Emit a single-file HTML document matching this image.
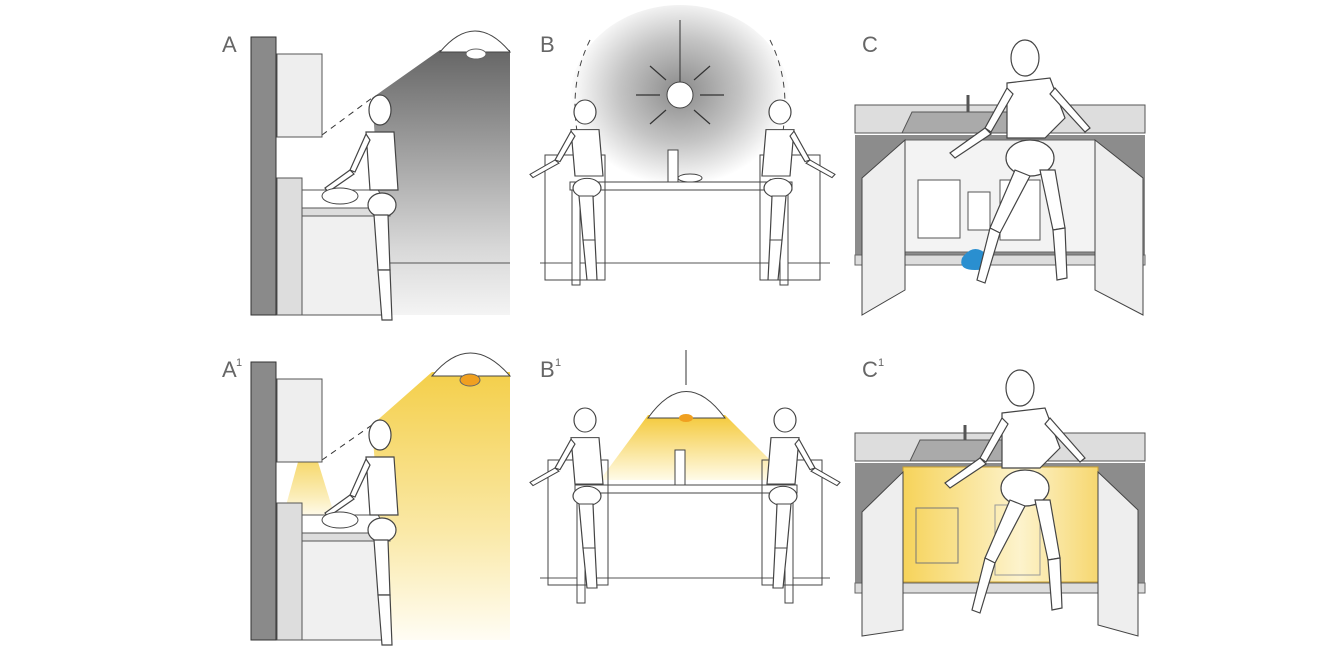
<!DOCTYPE html>
<html><head><meta charset="utf-8"><style>
html,body{margin:0;padding:0;background:#fff}
svg{display:block}
text{font-family:"Liberation Sans",sans-serif;fill:#666}
</style></head><body>
<svg width="1342" height="671" viewBox="0 0 1342 671" xmlns="http://www.w3.org/2000/svg">
<defs>
<linearGradient id="gA" x1="0" y1="0" x2="0" y2="1"><stop offset="0" stop-color="#666"/><stop offset="0.75" stop-color="#d8d8d8"/><stop offset="1" stop-color="#f4f4f4"/></linearGradient>
<linearGradient id="yA" x1="0" y1="0" x2="0" y2="1"><stop offset="0" stop-color="#f4cf4a"/><stop offset="0.6" stop-color="#fae9a8"/><stop offset="1" stop-color="#fffdf4"/></linearGradient>
<radialGradient id="rB" cx="0.5" cy="0.45" r="0.5"><stop offset="0" stop-color="#8a8a8a"/><stop offset="0.55" stop-color="#c4c4c4"/><stop offset="1" stop-color="#fff"/></radialGradient>
<linearGradient id="yB" x1="0" y1="0" x2="0" y2="1"><stop offset="0" stop-color="#f4c93a"/><stop offset="1" stop-color="#fffbe8"/></linearGradient>
<linearGradient id="yC" x1="0" y1="0" x2="1" y2="0"><stop offset="0" stop-color="#f6d35a"/><stop offset="0.6" stop-color="#fdf3cc"/><stop offset="1" stop-color="#f6d770"/></linearGradient>
<g id="fig" fill="#fff" stroke="#444" stroke-width="1.2">
<ellipse cx="0" cy="0" rx="11" ry="15"/>
<path d="M-14 22 L14 22 L18 80 L-10 80 Z"/>
<ellipse cx="2" cy="95" rx="14" ry="12"/>
<path d="M-6 105 L8 105 L10 160 L-2 160 Z"/>
<path d="M-2 160 L10 160 L12 210 L2 210 Z"/>
<path d="M-14 24 L-30 60 L-25 62 L-10 30 Z"/>
<path d="M-30 60 L-55 78 L-52 82 L-26 64 Z"/>
</g>
<g id="figC" fill="#fff" stroke="#444" stroke-width="1.2">
<ellipse cx="0" cy="0" rx="14" ry="18"/>
<path d="M-18 25 L25 20 L40 60 L20 80 L-18 80 Z"/>
<ellipse cx="5" cy="100" rx="24" ry="18"/>
<path d="M-10 112 L5 118 L-25 175 L-35 170 Z"/>
<path d="M-35 170 L-25 175 L-40 225 L-48 222 Z"/>
<path d="M15 112 L30 112 L40 170 L28 172 Z"/>
<path d="M28 172 L40 170 L42 220 L32 222 Z"/>
<path d="M-18 30 L-40 70 L-34 74 L-12 36 Z"/>
<path d="M-40 70 L-75 95 L-70 100 L-34 76 Z"/>
<path d="M30 30 L65 70 L60 74 L25 36 Z"/>
</g>
</defs>

<!-- ===== A ===== -->
<text x="222" y="52" font-size="22">A</text>
<polygon points="440,50 372,98 388,315 510,315 510,50" fill="url(#gA)"/>
<line x1="388" y1="263" x2="510" y2="263" stroke="#555"/>
<line x1="322" y1="135" x2="372" y2="98" stroke="#333" stroke-dasharray="6,5"/>
<path d="M440 52 Q475 10 510 52 Z" fill="#fff" stroke="#444"/>
<ellipse cx="476" cy="54" rx="10" ry="5" fill="#fff" stroke="#666"/>
<rect x="251" y="37" width="25" height="278" fill="#8a8a8a" stroke="#333"/>
<rect x="277" y="54" width="45" height="83" fill="#eee" stroke="#555"/>
<rect x="277" y="178" width="25" height="137" fill="#ddd" stroke="#555"/>
<polygon points="302,190 378,190 390,208 302,208" fill="#fff" stroke="#555"/>
<rect x="302" y="208" width="88" height="8" fill="#ddd" stroke="#555"/>
<rect x="302" y="216" width="86" height="99" fill="#f0f0f0" stroke="#555"/>
<use href="#fig" x="380" y="110"/>
<ellipse cx="340" cy="196" rx="18" ry="8" fill="#fff" stroke="#444"/>

<!-- ===== A1 ===== -->
<text x="222" y="377" font-size="22">A</text><text x="236" y="366" font-size="11">1</text>
<polygon points="432,372 372,425 388,640 510,640 510,372" fill="url(#yA)"/>
<polygon points="298,462 318,462 336,520 282,520" fill="url(#yA)" opacity="0.8"/>
<line x1="322" y1="460" x2="372" y2="425" stroke="#333" stroke-dasharray="6,5"/>
<path d="M432 376 Q470 330 510 376 Z" fill="#fff" stroke="#444"/>
<ellipse cx="470" cy="380" rx="10" ry="6" fill="#f0a020" stroke="#666"/>
<rect x="251" y="362" width="25" height="278" fill="#8a8a8a" stroke="#333"/>
<rect x="277" y="379" width="45" height="83" fill="#eee" stroke="#555"/>
<rect x="277" y="503" width="25" height="137" fill="#ddd" stroke="#555"/>
<polygon points="302,515 378,515 390,533 302,533" fill="#fff" stroke="#555"/>
<rect x="302" y="533" width="88" height="8" fill="#ddd" stroke="#555"/>
<rect x="302" y="541" width="86" height="99" fill="#f0f0f0" stroke="#555"/>
<use href="#fig" x="380" y="435"/>
<ellipse cx="340" cy="520" rx="18" ry="8" fill="#fff" stroke="#444"/>

<!-- ===== B ===== -->
<text x="540" y="52" font-size="22">B</text>
<ellipse cx="680" cy="100" rx="110" ry="95" fill="url(#rB)"/>
<path d="M590 40 Q560 100 590 180" fill="none" stroke="#444" stroke-dasharray="6,5"/>
<path d="M770 40 Q800 100 770 180" fill="none" stroke="#444" stroke-dasharray="6,5"/>
<line x1="680" y1="20" x2="680" y2="82" stroke="#333"/>
<circle cx="680" cy="95" r="13" fill="#fff" stroke="#444"/>
<g stroke="#333" stroke-width="1.2"><line x1="660" y1="95" x2="636" y2="95"/><line x1="700" y1="95" x2="724" y2="95"/><line x1="666" y1="80" x2="650" y2="66"/><line x1="694" y1="80" x2="710" y2="66"/><line x1="666" y1="110" x2="650" y2="124"/><line x1="694" y1="110" x2="710" y2="124"/></g>
<line x1="540" y1="263" x2="830" y2="263" stroke="#555"/>
<rect x="570" y="182" width="222" height="8" fill="#fff" stroke="#444"/>
<rect x="572" y="190" width="8" height="95" fill="#fff" stroke="#444"/>
<rect x="780" y="190" width="8" height="95" fill="#fff" stroke="#444"/>
<rect x="545" y="155" width="60" height="125" fill="none" stroke="#444"/>
<rect x="760" y="155" width="60" height="125" fill="none" stroke="#444"/>
<use href="#fig" x="585" y="110" transform="scale(1,0.8) translate(0,30)"/>
<use href="#fig" x="780" y="110" transform="translate(1560,0) scale(-1,0.8) translate(0,30)"/>
<path d="M668 150 L668 182 L678 182 L678 150 Z" fill="#fff" stroke="#444"/>
<ellipse cx="690" cy="178" rx="12" ry="4" fill="#fff" stroke="#444"/>

<!-- ===== B1 ===== -->
<text x="540" y="377" font-size="22">B</text><text x="555" y="366" font-size="11">1</text>
<polygon points="648,415 725,415 790,480 600,480" fill="url(#yB)"/>
<line x1="686" y1="350" x2="686" y2="385" stroke="#333"/>
<path d="M648 418 Q686 365 725 418 Z" fill="#fff" stroke="#444"/>
<ellipse cx="686" cy="418" rx="7" ry="4" fill="#f0a020"/>
<line x1="540" y1="578" x2="830" y2="578" stroke="#555"/>
<rect x="575" y="485" width="222" height="8" fill="#fff" stroke="#444"/>
<rect x="577" y="493" width="8" height="110" fill="#fff" stroke="#444"/>
<rect x="785" y="493" width="8" height="110" fill="#fff" stroke="#444"/>
<rect x="548" y="460" width="60" height="125" fill="none" stroke="#444"/>
<rect x="762" y="460" width="60" height="125" fill="none" stroke="#444"/>
<use href="#fig" x="585" y="420" transform="scale(1,0.8) translate(0,105)"/>
<use href="#fig" x="785" y="420" transform="translate(1570,0) scale(-1,0.8) translate(0,105)"/>
<path d="M675 450 L675 485 L685 485 L685 450 Z" fill="#fff" stroke="#444"/>

<!-- ===== C ===== -->
<text x="862" y="52" font-size="22">C</text>
<rect x="855" y="105" width="290" height="28" fill="#ddd" stroke="#555"/>
<polygon points="912,112 1040,112 1050,133 902,133" fill="#aaa" stroke="#555"/>
<rect x="855" y="135" width="290" height="120" fill="#8c8c8c"/>
<rect x="905" y="140" width="190" height="112" fill="#f3f3f3" stroke="#666"/>
<rect x="855" y="255" width="290" height="10" fill="#ddd" stroke="#666"/>
<rect x="918" y="180" width="42" height="58" fill="#fff" stroke="#555"/>
<rect x="968" y="192" width="22" height="38" fill="#fff" stroke="#555"/>
<rect x="1000" y="180" width="40" height="60" fill="#fff" stroke="#555"/>
<polygon points="862,178 905,140 905,290 862,315" fill="#eee" stroke="#444"/>
<polygon points="1095,140 1143,178 1143,315 1095,290" fill="#eee" stroke="#444"/>
<path d="M962 258 Q975 240 990 258 Q995 270 975 270 Q958 270 962 258 Z" fill="#2a8fd0"/>
<line x1="968" y1="95" x2="968" y2="112" stroke="#555" stroke-width="3"/>
<use href="#figC" x="1025" y="58"/>

<!-- ===== C1 ===== -->
<text x="862" y="377" font-size="22">C</text><text x="878" y="366" font-size="11">1</text>
<rect x="855" y="433" width="290" height="28" fill="#ddd" stroke="#555"/>
<polygon points="920,440 1030,440 1040,461 910,461" fill="#aaa" stroke="#555"/>
<rect x="855" y="463" width="290" height="120" fill="#8c8c8c"/>
<rect x="903" y="467" width="195" height="115" fill="url(#yC)" stroke="#c9a030"/>
<rect x="855" y="583" width="290" height="10" fill="#ddd" stroke="#666"/>
<rect x="916" y="508" width="42" height="55" fill="none" stroke="#777"/>
<rect x="995" y="505" width="45" height="70" fill="none" stroke="#999"/>
<polygon points="862,512 903,472 903,630 862,636" fill="#eee" stroke="#444"/>
<polygon points="1098,472 1138,510 1138,636 1098,625" fill="#eee" stroke="#444"/>
<line x1="965" y1="425" x2="965" y2="440" stroke="#555" stroke-width="3"/>
<use href="#figC" x="1020" y="388"/>
</svg>
</body></html>
